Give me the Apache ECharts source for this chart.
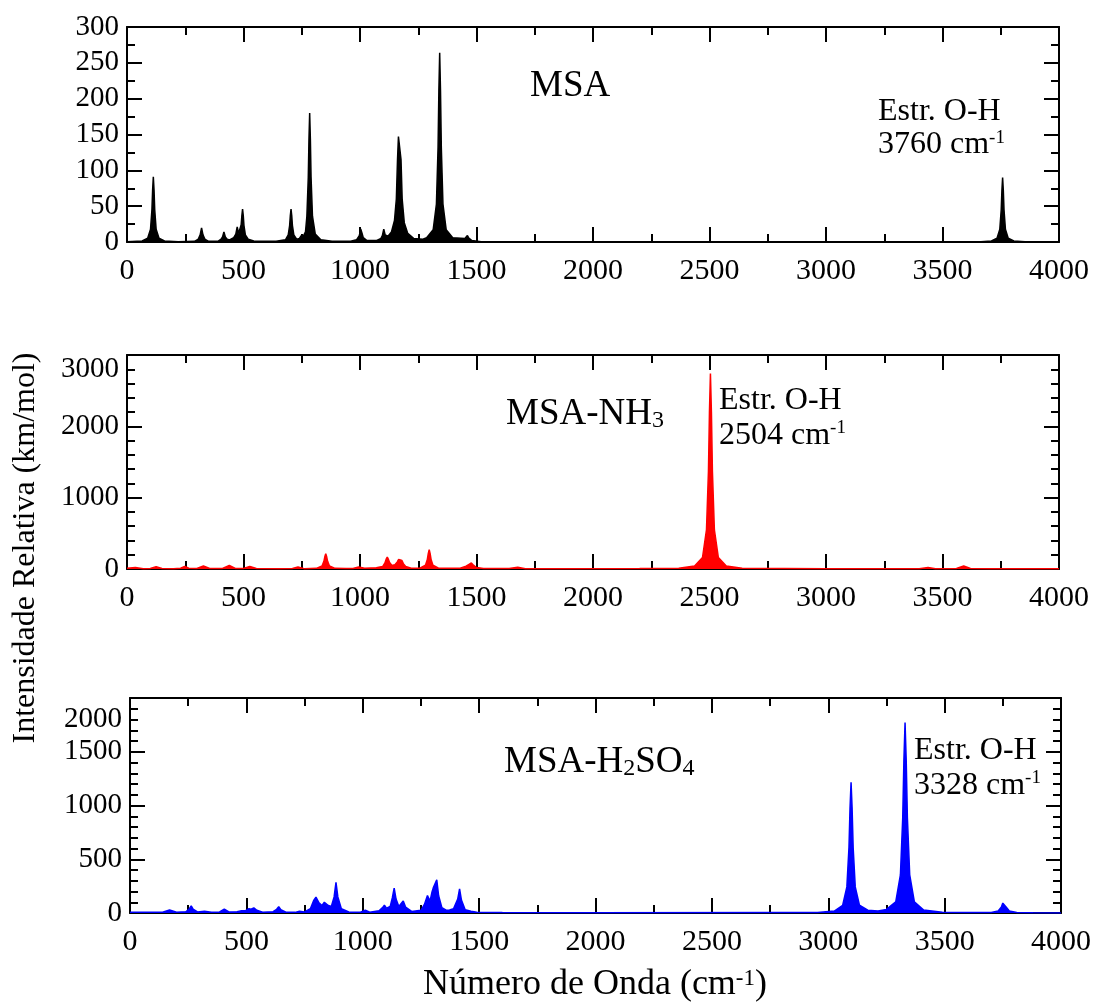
<!DOCTYPE html>
<html lang="pt">
<head>
<meta charset="UTF-8">
<title>Espectros IR - MSA</title>
<script src="https://cdn.jsdelivr.net/npm/echarts@6/dist/echarts.min.js"></script>
<style>
  html, body { margin: 0; padding: 0; background: #fff; }
  #chart { width: 1094px; height: 1006px; }
</style>
</head>
<body>
<div id="chart"></div>
<script>
// ---- dados: [numero de onda (cm-1), intensidade (km/mol)] ----
var msaSpectrum = [
  [0,0.5],
  [65,1.4],[89,5.5],[101,18],[107,45],[110,73],[113,91],[116,73],[119,45],[125,18],[137,5.5],[161,1.4],[220,0.5],
  [290,1],[306,4],[314,10],[320,19.5],[326,10],[334,4],[350,1],
  [390,1],[404,4],[410,7],[416,14],[422,7],[430,4],
  [440,3],[458,6],[467,11],[473,21],[479,12],[485,14],[490,24],[493,37],[496,46],[499,37],[502,23],[508,10],[520,4],[544,1.5],
  [640,1],[680,3],[692,10],[698,23],[701,37],[704,46],[707,37],[710,23],[716,10],[728,4],
  [740,5],[748,9],[753,10],[758,9],[766,14],[772,36],[778,90],[781,144],[784,180],[787,144],[790,90],[796,36],[808,11],[832,3],[880,1],
  [960,1],[985,3],[997,9],[1003,18],[1008,13],[1014,6],[1030,2],
  [1070,2],[1090,5],[1096,9],[1102,18],[1108,10],[1120,8],
  [1135,14],[1148,30],[1156,60],[1161,115],[1165,147],[1172,145],[1176,115],[1181,60],[1190,27],[1205,12],[1230,5],
  [1270,4],[1286,6],[1314,17],[1328,53],[1335,132],[1338.5,211],[1342,264],[1345.5,211],[1349,132],[1356,53],[1370,17],[1398,6],
  [1450,5],[1456,7],[1461,9],[1466,6],[1480,2],[1520,0.5],[1600,0],
  [3650,0],[3710,1.4],[3734,5.4],[3746,18],[3752,45],[3755,72],[3758,90],[3761,72],[3764,45],[3770,18],[3782,5.4],[3806,1.4],[3870,0],[4000,0]
];

var nh3Spectrum = [
  [0,10],[36,20],[70,5],[100,8],[125,33],[150,8],[200,3],[230,10],[248,37],[265,10],
  [300,8],[328,42],[355,8],[410,8],[439,51],[465,8],[500,8],[527,37],[555,6],
  [650,3],[710,8],[734,28],[760,5],
  [813,9],[837,43],[845,107],[849,171],[853,214],[857,171],[861,107],[869,43],[893,9],
  [940,6],[970,8],[994,28],[1020,10],
  [1070,18],[1097,34],[1107,84],[1112,134],[1117,168],[1122,134],[1127,90],[1137,50],
  [1150,60],[1160,100],[1166,135],[1174,154],[1180,120],[1186,75],[1196,35],[1220,12],
  [1257,12],[1281,54],[1289,135],[1293,216],[1297,270],[1301,216],[1305,135],[1313,54],[1337,12],
  [1400,10],[1430,10],[1455,40],[1468,65],[1478,84],[1488,50],[1500,20],[1530,6],
  [1640,6],[1677,23],[1710,5],[1900,5],[2200,6],
  [2368,11],[2436,42],[2470,161],[2487,548],[2495.5,1370],[2499.75,2192],[2504,2740],
  [2508.25,2192],[2512.5,1370],[2521,548],[2538,161],[2572,42],[2640,11],
  [3000,5],[3400,5],[3438,20],[3470,5],[3560,8],[3591,42],[3620,8],[3700,3],[4000,2]
];

var h2so4Spectrum = [
  [0,8],[60,6],[140,8],[170,28],[200,8],[240,12],[255,40],[263,66],[271,35],[290,10],
  [320,16],[350,6],[385,10],[405,37],[425,10],[460,12],[479,22],[495,20],[511,40],[520,35],
  [532,47],[545,25],[570,8],[615,12],[630,35],[639,59],[648,30],[670,8],[710,6],[728,16],
  [750,10],[775,40],[790,120],[799,147],[812,95],[825,70],[835,100],[842,109],[852,70],
  [865,60],[877,150],[885,284],[893,150],[908,40],[940,10],[990,8],[1011,25],[1030,8],
  [1070,20],[1085,50],[1093,72],[1102,45],[1118,60],[1127,140],[1135,231],[1143,130],
  [1155,60],[1166,90],[1174,112],[1184,55],[1210,15],[1250,25],[1265,80],[1278,162],
  [1289,110],[1297,190],[1303,234],[1310,230],[1318,309],[1326,160],[1340,50],[1360,25],
  [1373,28],[1390,40],[1408,130],[1416,225],[1424,120],[1440,30],[1465,16],[1490,6],
  [1600,4],[2000,3],[2800,5],
  [2954,4],[3026,18],[3062,72],[3080,243],[3089,608],[3093.5,973],[3098,1216],[3102.5,973],
  [3107,608],[3116,243],[3134,72],[3170,26],[3214,18],
  [3250,33],[3290,104],[3310,354],[3320,886],[3325,1418],[3330,1772],[3335,1418],[3340,886],
  [3350,354],[3370,104],[3410,27],[3490,7],[3600,4],
  [3700,5],[3730,18],[3744,55],[3750,92],[3754,109],[3758,92],[3764,55],[3778,18],[3810,5],[3880,2],[4000,1]
];

// ---- eixos ----
var xRange = [0, 4000], xStep = 500;
var msaYRange = [0, 300], msaYStep = 50;
var nh3YRange = [0, 3000], nh3YStep = 1000;
var h2so4YRange = [0, 2000], h2so4YStep = 500;
// rotulos do eixo y como aparecem na figura (o rotulo do topo fica abaixo do limite)
var nh3YTickValues = [0, 1000, 2000, 2800];
var nh3YTickLabels = ['0', '1000', '2000', '3000'];
var h2so4YTickValues = [0, 500, 1000, 1500, 1800];
var h2so4YTickLabels = ['0', '500', '1000', '1500', '2000'];

var FONT = 'Liberation Serif, Times New Roman, serif';

var chart = echarts.init(document.getElementById('chart'));

function lineStyle() { return { color: '#000', width: 2 }; }

function makeAxis(dim, gridIndex, pos, range, step, minorSplit, showLabel, labelVals, labelTxt) {
  var ax = {
    type: 'value',
    gridIndex: gridIndex,
    position: pos,
    min: range[0],
    max: range[1],
    interval: step,
    axisLine: { show: true, onZero: false, lineStyle: lineStyle() },
    axisTick: { show: true, inside: true, length: 15, lineStyle: lineStyle() },
    minorTick: { show: true, splitNumber: minorSplit, length: 8, lineStyle: lineStyle() },
    splitLine: { show: false },
    minorSplitLine: { show: false },
    axisLabel: {
      show: showLabel,
      fontFamily: FONT,
      fontSize: dim === 'x' ? 30 : 29,
      color: '#000',
      margin: dim === 'x' ? 14 : 8,
      formatter: function (v) { return String(v); }
    }
  };
  if (labelVals) {
    ax.axisLabel.customValues = labelVals;
    ax.axisLabel.formatter = function (v) {
      var i = labelVals.indexOf(v);
      return i >= 0 ? labelTxt[i] : '';
    };
  }
  return ax;
}

function spectrumSeries(name, xi, yi, data, color) {
  return {
    name: name, type: 'line', xAxisIndex: xi, yAxisIndex: yi, data: data,
    symbol: 'none', silent: true,
    lineStyle: { color: color, width: 1.5 },
    areaStyle: { color: color, opacity: 1 }
  };
}

var option = {
  animation: false,
  backgroundColor: '#fff',
  grid: [
    { left: 127, top: 27, width: 932, height: 215 },
    { left: 127, top: 355, width: 932, height: 214 },
    { left: 130, top: 698, width: 931, height: 215 }
  ],
  xAxis: [
    makeAxis('x', 0, 'bottom', xRange, xStep, 2, true),
    makeAxis('x', 0, 'top', xRange, xStep, 2, false),
    makeAxis('x', 1, 'bottom', xRange, xStep, 2, true),
    makeAxis('x', 1, 'top', xRange, xStep, 2, false),
    makeAxis('x', 2, 'bottom', xRange, xStep, 2, true),
    makeAxis('x', 2, 'top', xRange, xStep, 2, false)
  ],
  yAxis: [
    makeAxis('y', 0, 'left', msaYRange, msaYStep, 2, true),
    makeAxis('y', 0, 'right', msaYRange, msaYStep, 2, false),
    makeAxis('y', 1, 'left', nh3YRange, nh3YStep, 5, true, nh3YTickValues, nh3YTickLabels),
    makeAxis('y', 1, 'right', nh3YRange, nh3YStep, 5, false),
    makeAxis('y', 2, 'left', h2so4YRange, h2so4YStep, 5, true, h2so4YTickValues, h2so4YTickLabels),
    makeAxis('y', 2, 'right', h2so4YRange, h2so4YStep, 5, false)
  ],
  series: [
    spectrumSeries('MSA', 0, 0, msaSpectrum, '#000000'),
    spectrumSeries('MSA-NH3', 2, 2, nh3Spectrum, '#ff0000'),
    spectrumSeries('MSA-H2SO4', 4, 4, h2so4Spectrum, '#0000ff')
  ],
  graphic: [
    // titulos dos eixos
    {
      type: 'text', x: 26, y: 548, rotation: Math.PI / 2,
      style: { text: 'Intensidade Relativa (km/mol)', fontFamily: FONT, fontSize: 32,
               fill: '#000', align: 'center', verticalAlign: 'middle' }
    },
    {
      type: 'text', x: 595, y: 985,
      style: { text: 'Número de Onda (cm{sup|-1})', fontFamily: FONT, fontSize: 36,
               fill: '#000', align: 'center', verticalAlign: 'middle',
               rich: { sup: { fontFamily: FONT, fontSize: 23, lineHeight: 23, verticalAlign: 'top', fill: '#000' } } }
    },
    // nomes das moleculas
    {
      type: 'text', x: 530, y: 86.5,
      style: { text: 'MSA', fontFamily: FONT, fontSize: 37, fill: '#000', verticalAlign: 'middle' }
    },
    {
      type: 'text', x: 506, y: 414,
      style: { text: 'MSA-NH{sub|3}', fontFamily: FONT, fontSize: 37, fill: '#000', verticalAlign: 'middle',
               rich: { sub: { fontFamily: FONT, fontSize: 24, lineHeight: 24, verticalAlign: 'bottom', fill: '#000' } } }
    },
    {
      type: 'text', x: 504, y: 762.5,
      style: { text: 'MSA-H{sub|2}SO{sub|4}', fontFamily: FONT, fontSize: 37, fill: '#000', verticalAlign: 'middle',
               rich: { sub: { fontFamily: FONT, fontSize: 24, lineHeight: 24, verticalAlign: 'bottom', fill: '#000' } } }
    },
    // anotacoes do estiramento O-H
    {
      type: 'text', x: 878, y: 94.7,
      style: { text: 'Estr. O-H\n3760 cm{sup|-1}', fontFamily: FONT, fontSize: 32, lineHeight: 33.4,
               fill: '#000', verticalAlign: 'top',
               rich: { sup: { fontFamily: FONT, fontSize: 19, lineHeight: 19, verticalAlign: 'top', fill: '#000' } } }
    },
    {
      type: 'text', x: 719, y: 382.5,
      style: { text: 'Estr. O-H\n2504 cm{sup|-1}', fontFamily: FONT, fontSize: 32, lineHeight: 35.7,
               fill: '#000', verticalAlign: 'top',
               rich: { sup: { fontFamily: FONT, fontSize: 19, lineHeight: 19, verticalAlign: 'top', fill: '#000' } } }
    },
    {
      type: 'text', x: 914, y: 732.5,
      style: { text: 'Estr. O-H\n3328 cm{sup|-1}', fontFamily: FONT, fontSize: 32, lineHeight: 35.7,
               fill: '#000', verticalAlign: 'top',
               rich: { sup: { fontFamily: FONT, fontSize: 19, lineHeight: 19, verticalAlign: 'top', fill: '#000' } } }
    }
  ]
};

chart.setOption(option);
</script>
</body>
</html>
